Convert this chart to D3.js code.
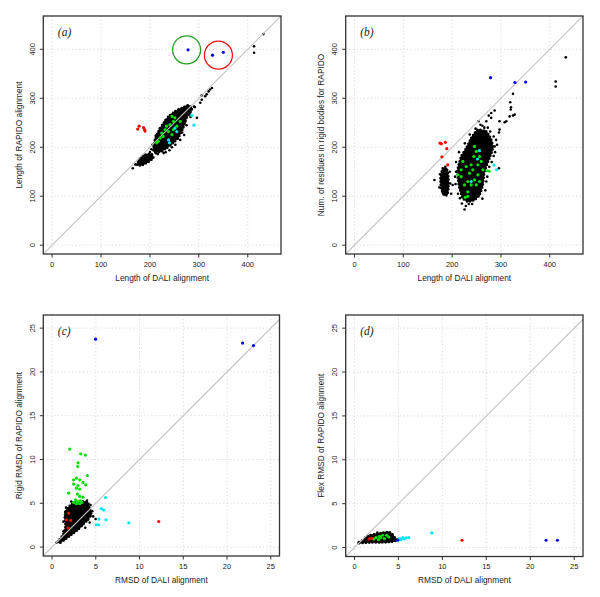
<!DOCTYPE html>
<html>
<head>
<meta charset="utf-8">
<title>RAPIDO vs DALI</title>
<script src="https://cdn.jsdelivr.net/npm/d3@7"></script>
<style>
body { margin:0; background:#fff; }
svg text { font-family:"Liberation Sans", Arial, sans-serif; fill:#222; }
.grid line { stroke:#cfcfcf; stroke-dasharray:1.2 2.4; stroke-width:0.8; }
</style>
</head>
<body>
<svg id="chart" width="600" height="597"></svg>
<script>
// ---- data (data units) ----
// panel (a): Length of DALI vs Length of RAPIDO
var aHullMain = [[207,195],[210,215],[217,232],[228,250],[238,263],[251,273],[265,280],[279,286],[286,277],[275,260],[268,239],[258,219],[248,209],[234,198],[221,191],[210,190]]
var aHullLow = [[173,164],[180,178],[190,185],[204,186],[207,178],[197,170],[183,163]]
var aBlack = [[165,157],[296,260],[303,291],[306,297],[313,304],[316,308],[320,314],[323,318],[327,321],[306,306],
  [413,406],[413,393],[432,431],[278,270],[284,280],[290,283],[270,268],[262,272],[203,196],[200,190],[212,188],
  [225,192],[232,190],[245,200],[262,215],[270,225],[275,245],[283,262],[275,283],[195,182],[188,170],[178,172],[170,165],[292,282],
  [216,186],[228,188],[240,194],[252,205],[266,230],[272,252],[281,268],[205,205],[212,224],[220,238],[232,255],[244,266],[258,277]]
var aGreen = [[245,263],[248,253],[241,246],[234,243],[224,229],[217,212],[214,209],[227,222],[248,236],[255,243],
  [262,253],[238,232],[221,219],[231,236],[251,260],[245,226]]
var aCyan = [[285.6,265],[290,245],[255,232],[238,215],[240,209],[251,239]]
var aRed = [[175,237],[178,243],[187,240],[190,233],[189,236]]
var aBlue = [[278,399],[328,388],[350,394]]
var aRings = [{c:[275,399], col:"#22a022"},{c:[340,388], col:"#ee1111"}]

// panel (b): Length of DALI vs residues in rigid bodies
var bHullMain = [[252.7,235.9],[269.9,232.4],[280.2,215.4],[283.5,198.4],[276.7,177.8],[266.4,150.4],[263,123],[256.2,102.6],
  [245.9,92.3],[232.2,88.9],[221.9,95.7],[215,116.3],[211.6,136.8],[211.6,157.3],[218.5,181.1],[228.8,198.4],[239,218.9],[245.9,229.1]]
var bHullLow = [[180.8,157.3],[189.8,153.8],[192.5,136.8],[192.5,116.3],[189.8,102.6],[182.8,102.6],[177.5,116.3],[176,136.8]]
var bBlack = [[432.8,383.6],[412,334],[412,324],[324.6,309],[319,292],[320.5,281.6],[320,277],[328,266.7],[324.6,264.6],
  [317.8,263],[311,253],[307.5,251],[297,253],[297,236],[280,270],[287,275],[275,264.6],[280,260],[270,253],[290,215],
  [295.8,157],[287,201.7],[254,253],[225.4,73],[234,84],[163.7,133],[180.8,107],[187.7,106.7],[198,105],[201,123],
  [262,244],[266,240],[285,222],[288,190],[281,170],[272,140],[268,112],[208,150],[207,125],[212,105],[220,85],
  [258,246],[248,238],[236,226],[226,208],[214,190],[208,170],[292,205],[285,182],[276,160],[270,130],[262,95],
  [241,84],[228,80],[216,96],[206,140],[296,230],[278,232],[273,240],[186,160],[195,150],[196,126],[175,145],[174,118]]
var bGreen = [[245.9,201.7],[249.4,191.4],[244.5,181.1],[256.2,181.1],[259.6,171],[252.7,164],[239,164],[228.8,160.7],
  [218.5,153.8],[235.6,147],[252.7,143.6],[245.9,133.3],[232.2,130],[225.3,123],[239,123],[249.4,123],[256.2,130],
  [232,109],[218.5,140],[211.6,143.6],[221.9,171],[263,153.8],[242.4,153.8],[272,152],[276,151],[232,99.7],[226.8,97.8]]
var bCyan = [[256,193],[285.5,163.5],[291,154],[252,176],[239,130]]
var bRed = [[175,208.6],[178,207],[186,210],[189,197],[179,180.5],[191,164]]
var bBlue = [[278.7,342],[328.6,332],[350.6,333]]

// panel (c): RMSD of DALI vs Rigid RMSD of RAPIDO
var cHull = [[2.39,5.02],[3.54,5.2],[4.1,5.09],[4.3,4.45],[4.49,3.69],[4.1,3.12],[3.54,2.55],[2.97,1.97],[2.21,1.4],
  [1.45,0.83],[0.88,0.46],[0.68,0.64],[1.25,1.4],[1.53,2.35],[1.45,3.49],[1.64,4.26],[2.02,4.71]]
var cBlack = [[0.5,0.5],[0.7,0.6],[4.98,3.2],[4.1,3.12],[4.6,4.1],[4.4,4.8],[1.5,4.0],[2.2,5.2],[1.3,2.9],[4.7,3.5],
  [4.3,2.8],[3.8,2.2],[1.3,1.8],[1.6,4.5],[4.0,5.3]]
var cGreen = [[2.02,11.19],[3.27,10.65],[3.81,10.5],[2.97,9.62],[2.93,9.2],[4.03,8.17],[2.47,7.68],[2.78,7.88],
  [3.16,7.68],[2.47,7.19],[2.97,7.03],[3.84,7.11],[2.78,6.73],[3.16,6.62],[3.54,7.38],[1.9,6.16],[2.9,6.05],
  [3.16,5.78],[3.54,5.7],[2.7,5.4],[2.97,5.2],[3.24,5.3],[2.78,4.95],[3.16,4.95],[3.4,5.1],[2.47,5.1]]
var cCyan = [[6.12,5.66],[5.63,4.38],[5.9,4.22],[5.36,3.2],[6.16,3.12],[5.06,2.55],[5.33,2.55],[8.78,2.77]]
var cRed = [[12.2,2.92],[1.9,3.88],[1.64,3.12],[2.13,3.04],[1.83,2.2]]
var cBlue = [[4.98,23.74],[21.78,23.29],[23.03,23.01]]

// panel (d): RMSD of DALI vs Flex RMSD of RAPIDO
var dHull = [[0.35,0.53],[0.91,0.83],[1.49,1.33],[2.25,1.52],[3.02,1.67],[3.77,1.78],[4.16,1.6],[4.54,1.21],[4.92,0.83],
  [4.16,0.64],[3.02,0.57],[1.88,0.57],[0.91,0.53]]
var dBlack = [[0.5,0.5],[4.0,1.75],[4.3,1.5],[2.6,1.7],[1.2,1.1]]
var dGreen = [[2.45,1.14],[2.83,1.29],[3.2,1.4],[3.66,1.4],[3.4,1.02],[2.75,0.9],[2.18,0.98],[3.89,1.2],[3.0,1.14]]
var dCyan = [[8.8,1.67],[5.1,1.02],[5.49,1.14],[5.87,1.1],[6.17,1.14],[5.3,0.9],[5.68,0.98]]
var dRed = [[12.23,0.83],[1.68,0.98],[1.95,1.05]]
var dBlue = [[21.8,0.83],[23.09,0.83],[4.92,0.83]]

var lenTicks = [0,100,200,300,400]
var rmsdTicks = [0,5,10,15,20,25]

var panels = [
  {id:"a", box:[43.3,16,281,254], xd:[-18,468], yd:[-18,468], ticks:lenTicks,
   xlab:"Length of DALI alignment", ylab:"Length of RAPIDO alignment",
   hulls:[aHullMain,aHullLow], black:aBlack, green:aGreen, cyan:aCyan, red:aRed, blue:aBlue, rings:aRings},
  {id:"b", box:[345.7,16,583,254], xd:[-18,468], yd:[-18,468], ticks:lenTicks,
   xlab:"Length of DALI alignment", ylab:"Num. of residues in rigid bodies for RAPIDO",
   hulls:[bHullMain,bHullLow], black:bBlack, green:bGreen, cyan:bCyan, red:bRed, blue:bBlue, rings:[]},
  {id:"c", box:[43.3,315,279.5,556], xd:[-1,26], yd:[-1.02,26.5], ticks:rmsdTicks,
   xlab:"RMSD of DALI alignment", ylab:"Rigid RMSD of RAPIDO alignment",
   hulls:[cHull], black:cBlack, green:cGreen, cyan:cCyan, red:cRed, blue:cBlue, rings:[]},
  {id:"d", box:[345.7,315,583,556.5], xd:[-1,26], yd:[-1.02,26.5], ticks:rmsdTicks,
   xlab:"RMSD of DALI alignment", ylab:"Flex RMSD of RAPIDO alignment",
   hulls:[dHull], black:dBlack, green:dGreen, cyan:dCyan, red:dRed, blue:dBlue, rings:[]}
]

var svg = d3.select("#chart")

function drawPanel(p)
{
  var L=p.box[0], T=p.box[1], R=p.box[2], B=p.box[3]
  var x = d3.scaleLinear().domain(p.xd).range([L,R])
  var y = d3.scaleLinear().domain(p.yd).range([B,T])
  var g = svg.append("g").attr("class","panel-"+p.id)

  g.append("clipPath").attr("id","clip"+p.id)
    .append("rect").attr("x",L).attr("y",T).attr("width",R-L).attr("height",B-T)

  // dotted grid at tick positions
  var grid = g.append("g").attr("class","grid")
  grid.selectAll(".gx").data(p.ticks).enter().append("line")
    .attr("x1",x).attr("x2",x).attr("y1",T).attr("y2",B)
  grid.selectAll(".gy").data(p.ticks).enter().append("line")
    .attr("y1",y).attr("y2",y).attr("x1",L).attr("x2",R)

  var plot = g.append("g").attr("clip-path","url(#clip"+p.id+")")
  var line = d3.line().x(function(d){return x(d[0])}).y(function(d){return y(d[1])}).curve(d3.curveCardinalClosed.tension(0.4))

  // dense cores: filled outline with a dotted rim so the edge reads as points
  plot.selectAll(".hull").data(p.hulls).enter().append("path")
    .attr("d",line).attr("fill","#000").attr("stroke","#000").attr("stroke-width",0.8)
  plot.selectAll(".rim").data(p.hulls).enter().append("path")
    .attr("d",line).attr("fill","none").attr("stroke","#000").attr("stroke-width",2.6)
    .attr("stroke-linecap","round").attr("stroke-dasharray","0 3.3")
  plot.selectAll(".bk").data(p.black).enter().append("circle")
    .attr("cx",function(d){return x(d[0])}).attr("cy",function(d){return y(d[1])}).attr("r",1.3).attr("fill","#000")

  // y = x reference line
  var lo=Math.min(p.xd[0],p.yd[0]), hi=Math.max(p.xd[1],p.yd[1])
  plot.append("line").attr("x1",x(lo)).attr("y1",y(lo)).attr("x2",x(hi)).attr("y2",y(hi))
    .attr("stroke","#c4c4c4").attr("stroke-width",1.1)

  var groups = [[p.green,"#00e000"],[p.cyan,"#00e5ee"],[p.red,"#ff0000"],[p.blue,"#0000ff"]]
  groups.forEach(function(gr){
    plot.selectAll(null).data(gr[0]).enter().append("circle")
      .attr("cx",function(d){return x(d[0])}).attr("cy",function(d){return y(d[1])})
      .attr("r",1.6).attr("fill",gr[1])
  })

  g.selectAll(".ring").data(p.rings).enter().append("circle")
    .attr("cx",function(d){return x(d.c[0])}).attr("cy",function(d){return y(d.c[1])})
    .attr("r",14).attr("fill","none").attr("stroke",function(d){return d.col}).attr("stroke-width",1.3)

  // frame
  g.append("rect").attr("x",L).attr("y",T).attr("width",R-L).attr("height",B-T)
    .attr("fill","none").attr("stroke","#333").attr("stroke-width",1.3)

  // ticks and labels
  g.selectAll(".xt").data(p.ticks).enter().append("line")
    .attr("x1",x).attr("x2",x).attr("y1",B).attr("y2",B+3.5).attr("stroke","#333")
  g.selectAll(".xl").data(p.ticks).enter().append("text")
    .attr("x",x).attr("y",B+12.5).attr("text-anchor","middle").attr("font-size",7.5).text(function(d){return d})
  g.selectAll(".yt").data(p.ticks).enter().append("line")
    .attr("y1",y).attr("y2",y).attr("x1",L).attr("x2",L-3.5).attr("stroke","#333")
  g.selectAll(".yl").data(p.ticks).enter().append("text")
    .attr("transform",function(d){return "translate("+(L-8.5)+","+y(d)+") rotate(-90)"})
    .attr("text-anchor","middle").attr("font-size",7.5).text(function(d){return d})

  g.append("text").attr("x",(L+R)/2).attr("y",B+26.5).attr("text-anchor","middle")
    .attr("font-size",8.3).text(p.xlab)
  g.append("text").attr("transform","translate("+(L-21.5)+","+((T+B)/2)+") rotate(-90)")
    .attr("text-anchor","middle").attr("font-size",8.3).text(p.ylab)

  g.append("text").attr("x",L+14.5).attr("y",T+20).attr("font-size",11.5)
    .attr("font-style","italic").style("font-family","'Liberation Serif', 'DejaVu Serif', serif")
    .text("("+p.id+")")
}

panels.forEach(drawPanel)
</script>
</body>
</html>
